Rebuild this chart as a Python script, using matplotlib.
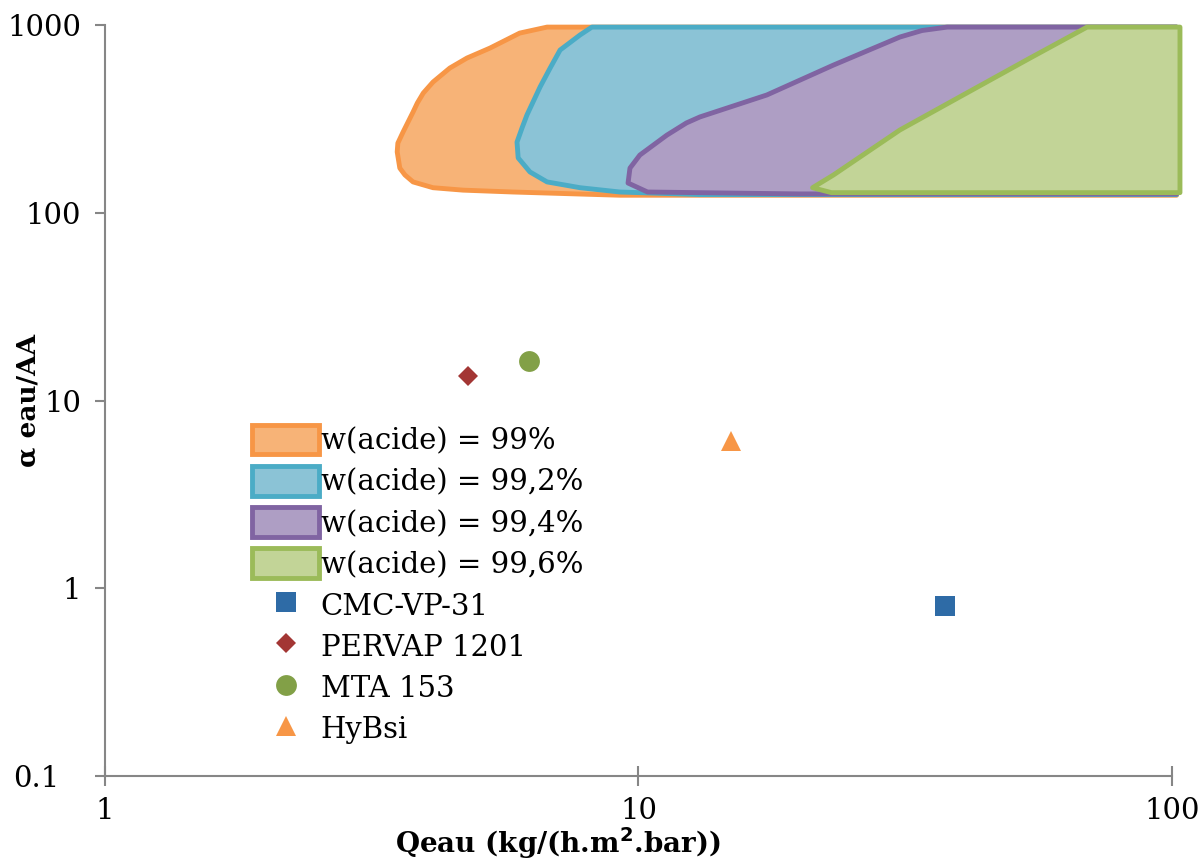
import matplotlib.pyplot as plt
from matplotlib.patches import Patch
from matplotlib.lines import Line2D
from matplotlib.transforms import ScaledTranslation

# Outline of each operating zone (Qeau, alpha) for a given acid mass fraction
q_99 = [6.74, 5.99, 5.27, 4.77, 4.43, 4.12, 3.95, 3.85, 3.78, 3.62, 3.54, 3.53, 3.57,
        3.65, 3.78, 4.12, 4.69, 5.82, 9.23, 102, 102]
a_99 = [975, 906, 754, 667, 590, 497, 434, 384, 344, 269, 235, 211, 173,
        159, 146, 136, 132, 129, 124, 124, 975]

q_992 = [8.18, 7.77, 7.13, 6.83, 6.54, 6.18, 6.05, 5.92, 5.95, 6.26, 6.74, 7.77, 9.23,
         13.0, 102, 102]
a_992 = [975, 885, 736, 590, 468, 332, 283, 238, 196, 165, 146, 136, 129,
         125, 125, 975]

q_994 = [37.9, 34.0, 30.9, 23.2, 17.4, 13.04, 12.3, 11.3, 10.06, 9.64, 9.56, 10.4,
         20.1, 102, 102]
a_994 = [975, 935, 863, 612, 424, 324, 301, 259, 203, 173, 144, 129,
         126, 126, 975]

q_996 = [69.3, 54.2, 40.6, 30.9, 23.2, 21.2, 23.0, 103.5, 103.5]
a_996 = [975, 667, 424, 276, 159, 136, 128, 128, 975]

zone_labels = ['w(acide) = 99%', 'w(acide) = 99,2%', 'w(acide) = 99,4%', 'w(acide) = 99,6%']

# Commercial membranes
membranes = ['CMC-VP-31', 'PERVAP 1201', 'MTA 153', 'HyBsi']
q_mem = [37.5, 4.79, 6.23, 14.9]
a_mem = [0.8, 13.5, 16.3, 6.1]

plt.rcParams['font.family'] = 'DejaVu Serif'

fig = plt.figure(figsize=(11.98, 8.66), dpi=100)
ax = fig.add_axes([0.0876, 0.1039, 0.8907, 0.8672])

zones = [(q_99, a_99), (q_992, a_992), (q_994, a_994), (q_996, a_996)]
edge_cols = ['#F79646', '#4BACC6', '#8064A2', '#9BBB59']
face_cols = ['#F7B377', '#8BC3D6', '#AE9EC4', '#C2D497']

handles = []
for (q, a), ec, fc, lab in zip(zones, edge_cols, face_cols, zone_labels):
    ax.fill(q, a, facecolor=fc, edgecolor=ec, linewidth=3.5, joinstyle='round', clip_on=False)
    handles.append(Patch(facecolor=fc, edgecolor=ec, linewidth=3.5, label=lab))

mk = ['s', 'D', 'o', '^']
mk_cols = ['#2E6BA6', '#A33634', '#82A047', '#F79646']
mk_size = [14, 10, 15, 14]
for i in range(len(membranes)):
    ax.plot(q_mem[i], a_mem[i], linestyle='none', marker=mk[i], color=mk_cols[i],
            markersize=mk_size[i], markeredgewidth=0)
    handles.append(Line2D([], [], linestyle='none', marker=mk[i], color=mk_cols[i],
                          markersize=mk_size[i], markeredgewidth=0, label=membranes[i]))

ax.set_xscale('log')
ax.set_yscale('log')
ax.set_xlim(1, 100)
ax.set_ylim(0.1, 1000)
ax.set_xticks([1, 10, 100])
ax.set_xticklabels(['1', '10', '100'])
ax.set_yticks([0.1, 1, 10, 100, 1000])
ax.set_yticklabels(['0.1', '1', '10', '100', '1000'])
ax.minorticks_off()

for s in ['top', 'right']:
    ax.spines[s].set_visible(False)
for s in ['left', 'bottom']:
    ax.spines[s].set_color('#868686')
    ax.spines[s].set_linewidth(1.5)
ax.tick_params(axis='y', direction='out', length=7, width=1.5, color='#868686',
               labelsize=21, pad=10)
ax.tick_params(axis='x', direction='inout', length=14, width=1.5, color='#868686',
               labelsize=21, pad=8)

# the 0.1 label sits further left than the others
lab01 = ax.get_yticklabels()[0]
lab01.set_transform(lab01.get_transform() + ScaledTranslation(-0.22, 0, fig.dpi_scale_trans))

ax.set_xlabel('Qeau (kg/(h.m$^\\mathbf{2}$.bar))', fontsize=20, fontweight='bold')
ax.xaxis.set_label_coords(0.424, -0.066)
ax.set_ylabel('α eau/AA', fontsize=19, fontweight='bold')
ax.yaxis.set_label_coords(-0.06, 0.5)

ax.legend(handles=handles, loc='upper left', bbox_to_anchor=(0.138, 0.468),
          frameon=False, fontsize=21, handlelength=2.3, handleheight=1.2,
          handletextpad=0.05, labelspacing=0.36, borderpad=0, borderaxespad=0)

fig.savefig('out.png', dpi=100)
